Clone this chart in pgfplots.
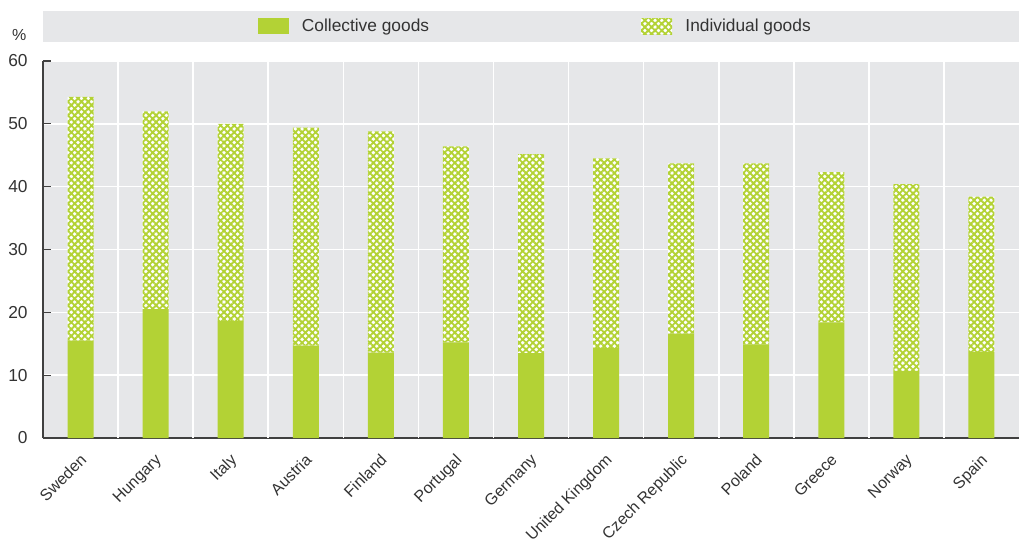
\documentclass[border=0pt]{standalone}
\usepackage{pgfplots}
\pgfplotsset{compat=1.18}
\usepackage{fontspec}
\setmainfont{Liberation Sans}
\usetikzlibrary{patterns.meta}
\definecolor{barGreen}{HTML}{B3D235}
\definecolor{hatchGreen}{HTML}{B3D235}
\definecolor{bgGray}{HTML}{E6E7E9}
\definecolor{txt}{HTML}{333333}
\begin{document}
\begin{tikzpicture}
\useasboundingbox (0,0) rectangle (764.25pt,407.25pt);
\fill[bgGray] (32.25pt,375.75pt) rectangle (764.25pt,399pt);
\node[anchor=center, font=\fontsize{12}{14}\selectfont, text=txt] at (14.5pt,381pt) {\%};
\begin{axis}[
  at={(32.25pt,78.75pt)}, anchor=south west,
  scale only axis, width=732pt, height=282.75pt,
  ybar stacked, bar width=19.5pt,
  xmin=-0.5, xmax=12.5, ymin=0, ymax=60,
  ytick={0,10,...,60},
  axis background/.style={fill=bgGray},
  axis x line*=bottom, axis y line*=left,
  axis line style={draw=black!75, line width=1.4pt},
  ymajorgrids, grid style={white, line width=1.2pt},
  major tick length=6pt,
  tick style={draw=black!75, line width=0.9pt},
  tick align=inside,
  /pgf/number format/assume math mode=true,
  yticklabel style={font=\fontsize{13}{15}\selectfont, text=txt, xshift=-8pt},
  xtick={0,...,12},
  xtick style={draw=none},
  xticklabels={Sweden,Hungary,Italy,Austria,Finland,Portugal,Germany,United Kingdom,Czech Republic,Poland,Greece,Norway,Spain},
  xticklabel style={font=\fontsize{12}{14}\selectfont, text=txt, rotate=45, anchor=north east, inner sep=1pt, xshift=-7.5pt, yshift=-6pt},
  extra x ticks={0.5,1.5,...,11.5},
  extra x tick labels={},
  extra x tick style={grid=major, major tick length=4pt, tick style={draw=black!75, line width=0.9pt}},
  legend columns=2,
  legend style={at={(axis description cs:0.5046,1)}, anchor=center, yshift=25.9pt,
    draw=none, fill=none, inner sep=0pt,
    font=\fontsize{13}{15}\selectfont, text=txt,
    /tikz/every odd column/.append style={column sep=8pt},
    /tikz/every even column/.append style={column sep=157pt}},
  legend image code/.code={\draw[#1, draw=none] (0pt,-6pt) rectangle (23.25pt,6pt);},
]
\addplot+[fill=barGreen, draw=none] coordinates {
(0,15.5) (1,20.5) (2,18.6) (3,14.7) (4,13.6) (5,15.2) (6,13.5) (7,14.3) (8,16.6) (9,14.9) (10,18.4) (11,10.7) (12,13.7)};
\addlegendentry{Collective goods}
\addplot+[fill=white, draw=none, postaction={pattern={Hatch[angle=45,distance=3.6pt,line width=1.4pt]}, pattern color=hatchGreen}] coordinates {
(0,38.8) (1,31.5) (2,31.4) (3,34.7) (4,35.2) (5,31.2) (6,31.7) (7,30.2) (8,27.1) (9,28.8) (10,23.9) (11,29.7) (12,24.7)};
\addlegendentry{Individual goods}
\end{axis}
\end{tikzpicture}
\end{document}
